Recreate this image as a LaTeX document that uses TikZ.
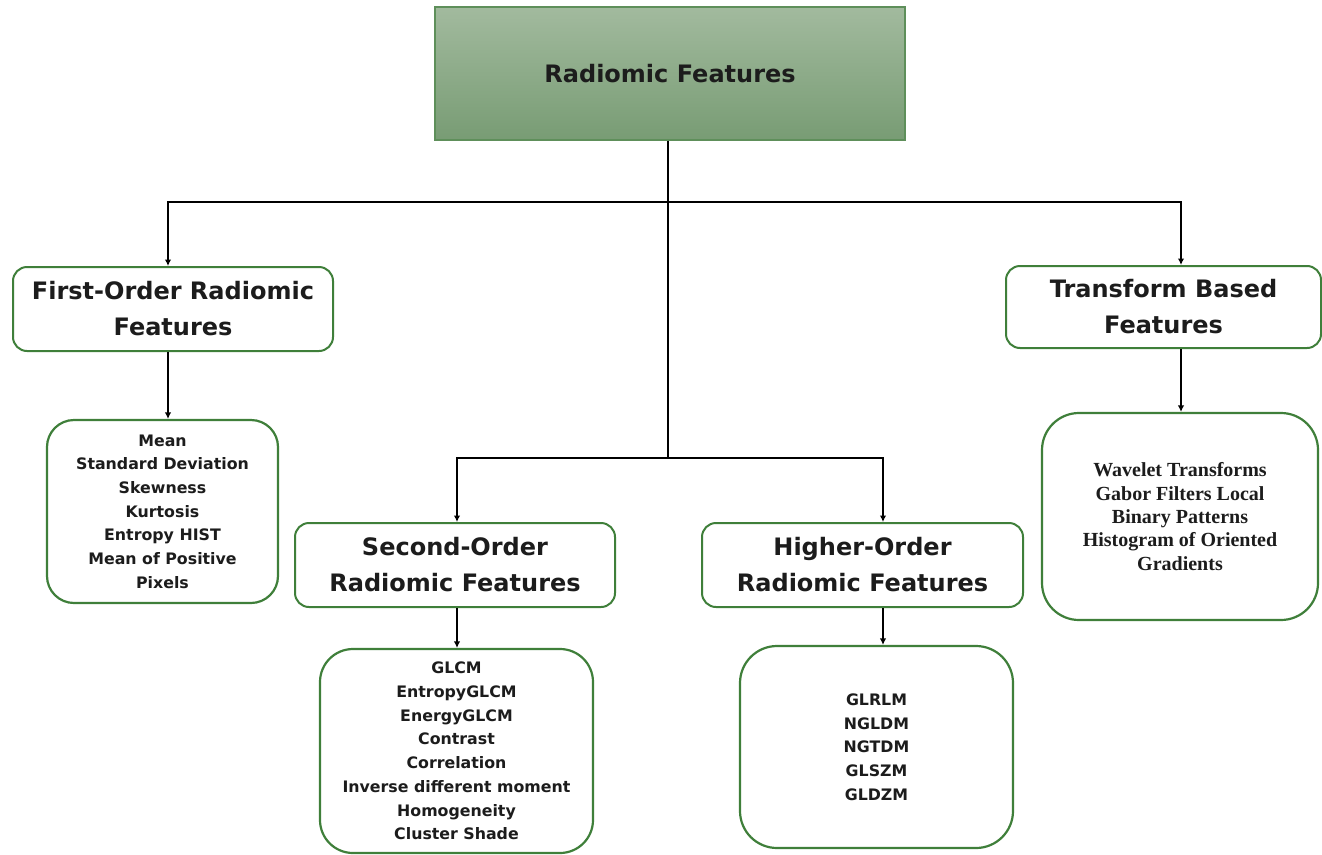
\documentclass[tikz,border=0pt]{standalone}
\usepackage{fontspec}
\setmainfont{DejaVu Sans}
\newfontfamily\serifbf{Liberation Serif}
\usetikzlibrary{arrows.meta,positioning,calc}
\definecolor{boxgreen}{HTML}{3F7F3A}
\definecolor{topedge}{HTML}{5E8F5A}
\definecolor{toptop}{HTML}{A2BA9E}
\definecolor{topbot}{HTML}{789C74}
\definecolor{txt}{HTML}{1C1C1C}
\tikzset{
  headbox/.style={draw=boxgreen, line width=2pt, rounded corners=14pt, fill=white,
    align=center, text=txt, inner sep=0pt,
    font=\bfseries\fontsize{24}{36}\selectfont},
  listbox/.style={draw=boxgreen, line width=2.2pt, fill=white,
    align=center, text=txt, inner sep=0pt,
    font=\bfseries\fontsize{15.8}{23.7}\selectfont},
  conn/.style={line width=2pt, black},
  arr/.style={conn, -{Latex[length=6.5pt,width=6.5pt]}}
}
\begin{document}
\begin{tikzpicture}[x=1pt,y=-1pt]
\useasboundingbox (0,0) rectangle (1322,854);
% top box
\node[draw=topedge, line width=1.2pt, top color=toptop, bottom color=topbot,
  minimum width=470pt, minimum height=133pt, inner sep=0pt, text=txt,
  font=\bfseries\fontsize{24}{30}\selectfont] (top) at (670,73.5) {Radiomic Features};
% headers
\node[headbox, minimum width=320pt, minimum height=84pt] (first) at (173,309) {First-Order Radiomic\\Features};
\node[headbox, minimum width=315pt, minimum height=82pt] (trans) at (1163.5,307) {Transform Based\\Features};
\node[headbox, minimum width=320pt, minimum height=84pt] (second) at (455,565) {Second-Order\\Radiomic Features};
\node[headbox, minimum width=321pt, minimum height=84pt] (higher) at (862.5,565) {Higher-Order\\Radiomic Features};
% lists
\node[listbox, rounded corners=27pt, minimum width=231pt, minimum height=183pt] (flist) at (162.5,511.5)
  {Mean\\Standard Deviation\\Skewness\\Kurtosis\\Entropy HIST\\Mean of Positive\\Pixels};
\node[listbox, rounded corners=37pt, minimum width=276pt, minimum height=207pt,
  font=\serifbf\bfseries\fontsize{20}{23.3}\selectfont] (tlist) at (1180,516.5)
  {Wavelet Transforms\\Gabor Filters Local\\Binary Patterns\\Histogram of Oriented\\Gradients};
\node[listbox, rounded corners=33pt, minimum width=273pt, minimum height=204pt] (slist) at (456.5,751)
  {GLCM\\EntropyGLCM\\EnergyGLCM\\Contrast\\Correlation\\Inverse different moment\\Homogeneity\\Cluster Shade};
\node[listbox, rounded corners=37pt, minimum width=273pt, minimum height=202pt] (hlist) at (876.5,747)
  {GLRLM\\NGLDM\\NGTDM\\GLSZM\\GLDZM};
% junctions
\coordinate (j1) at (668,202);
\coordinate (j2) at (668,458);
\coordinate (fx) at (168,0);
\coordinate (tx) at (1181,0);
\coordinate (sx) at (457,0);
\coordinate (hx) at (883,0);
% connectors
\draw[conn] (top.south -| j1) -- (j2);
\draw[arr] (j1) -| (fx |- first.north);
\draw[arr] (j1) -| (tx |- trans.north);
\draw[arr] (j2) -| (sx |- second.north);
\draw[arr] (j2) -| (hx |- higher.north);
\draw[arr] (fx |- first.south) -- (fx |- flist.north);
\draw[arr] (tx |- trans.south) -- (tx |- tlist.north);
\draw[arr] (sx |- second.south) -- (sx |- slist.north);
\draw[arr] (hx |- higher.south) -- (hx |- hlist.north);
\end{tikzpicture}
\end{document}
